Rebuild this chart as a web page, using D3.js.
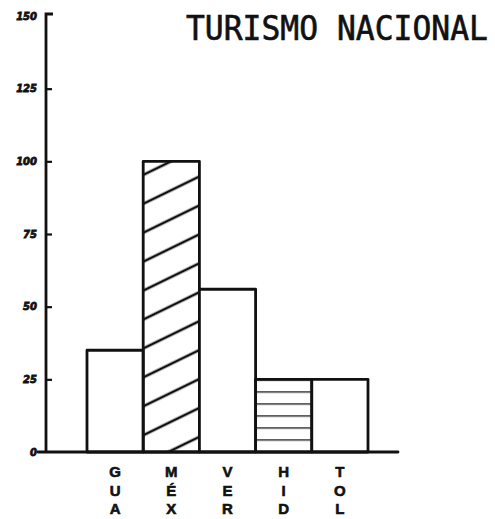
<!DOCTYPE html>
<html>
<head>
<meta charset="utf-8">
<script src="https://cdn.jsdelivr.net/npm/d3@7"></script>
<style>
  html, body { margin: 0; padding: 0; background: #fff; }
  svg { display: block; }
</style>
</head>
<body>
<svg id="chart" width="495" height="519"></svg>
<script>
// Tourism by state (national tourism)
const title = "TURISMO NACIONAL";
const categories = ["GUA", "MÉX", "VER", "HID", "TOL"];
const values = [35, 100, 56, 25, 25];
const fills = ["plain", "diagonal", "plain", "horizontal", "plain"];
const yTicks = [0, 25, 50, 75, 100, 125, 150];

const svg = d3.select("#chart");
const ink = "#111";

const y = d3.scaleLinear().domain([0, 150]).range([452, 16]);
const x = d3.scaleBand().domain(categories).range([87, 368]).paddingInner(0);

// Hatch patterns
const defs = svg.append("defs");
const diag = defs.append("pattern")
  .attr("id", "diagonal")
  .attr("patternUnits", "userSpaceOnUse")
  .attr("width", 10).attr("height", 26)
  .attr("patternTransform", "rotate(-26)");
diag.append("line")
  .attr("x1", -1).attr("x2", 11).attr("y1", 12).attr("y2", 12)
  .attr("stroke", ink).attr("stroke-width", 2.6);

const horiz = defs.append("pattern")
  .attr("id", "horizontal")
  .attr("patternUnits", "userSpaceOnUse")
  .attr("x", 0).attr("y", y(25))
  .attr("width", 10).attr("height", 12);
horiz.append("line")
  .attr("x1", -1).attr("x2", 11).attr("y1", 0).attr("y2", 0)
  .attr("stroke", ink).attr("stroke-width", 2.6);

// Bars
svg.append("g").selectAll("rect")
  .data(categories.map((c, i) => ({ c, v: values[i], f: fills[i] })))
  .join("rect")
  .attr("x", d => x(d.c))
  .attr("y", d => y(d.v))
  .attr("width", x.bandwidth())
  .attr("height", d => y(0) - y(d.v))
  .attr("fill", d => d.f === "plain" ? "#fff" : `url(#${d.f})`)
  .attr("stroke", ink)
  .attr("stroke-width", 2.8)
  .attr("stroke-linejoin", "round");

// Y axis (ticks pointing inward, labels on the left)
const yAxis = d3.axisLeft(y)
  .tickValues(yTicks)
  .tickSizeInner(-6)
  .tickSizeOuter(0)
  .tickPadding(9)
  .tickFormat(d3.format("d"));

const gy = svg.append("g")
  .attr("transform", "translate(46,0)")
  .call(yAxis);
gy.select(".domain")
  .attr("d", `M0,${y(0)}V14H7`)
  .attr("stroke", ink).attr("stroke-width", 2.8).attr("fill", "none");
gy.selectAll(".tick line").attr("stroke", ink).attr("stroke-width", 2.2);
gy.selectAll(".tick").filter(d => d === 0 || d === 150).select("line").remove();
gy.selectAll(".tick text")
  .attr("fill", ink)
  .attr("stroke", ink)
  .attr("stroke-width", 0.8)
  .style("font-family", "'DejaVu Sans', sans-serif")
  .style("font-weight", "bold")
  .style("font-style", "italic")
  .style("font-size", "10px");

// X baseline
svg.append("line")
  .attr("x1", 38).attr("x2", 398)
  .attr("y1", y(0)).attr("y2", y(0))
  .attr("stroke", ink).attr("stroke-width", 2.8)
  .attr("stroke-linecap", "round");

// Category labels, letters stacked vertically
const rowBase = [477, 496, 514];
const lbl = svg.append("g");
categories.forEach(c => {
  Array.from(c).forEach((ch, j) => {
    lbl.append("text")
      .attr("x", x(c) + x.bandwidth() / 2)
      .attr("y", rowBase[j])
      .attr("text-anchor", "middle")
      .attr("fill", ink)
      .attr("stroke", ink)
      .attr("stroke-width", 0.6)
      .style("font-family", "'Liberation Sans', Arial, sans-serif")
      .style("font-weight", "bold")
      .style("font-size", "15px")
      .text(ch);
  });
});

// Title
svg.append("text")
  .attr("transform", "translate(186,40) scale(1,1.1)")
  .attr("x", 0)
  .attr("y", 0)
  .attr("textLength", 302)
  .attr("lengthAdjust", "spacingAndGlyphs")
  .attr("fill", ink)
  .attr("stroke", ink)
  .attr("stroke-width", 0.6)
  .style("font-family", "'DejaVu Sans Mono', monospace")
  .style("font-size", "31px")
  .text(title);
</script>
</body>
</html>
